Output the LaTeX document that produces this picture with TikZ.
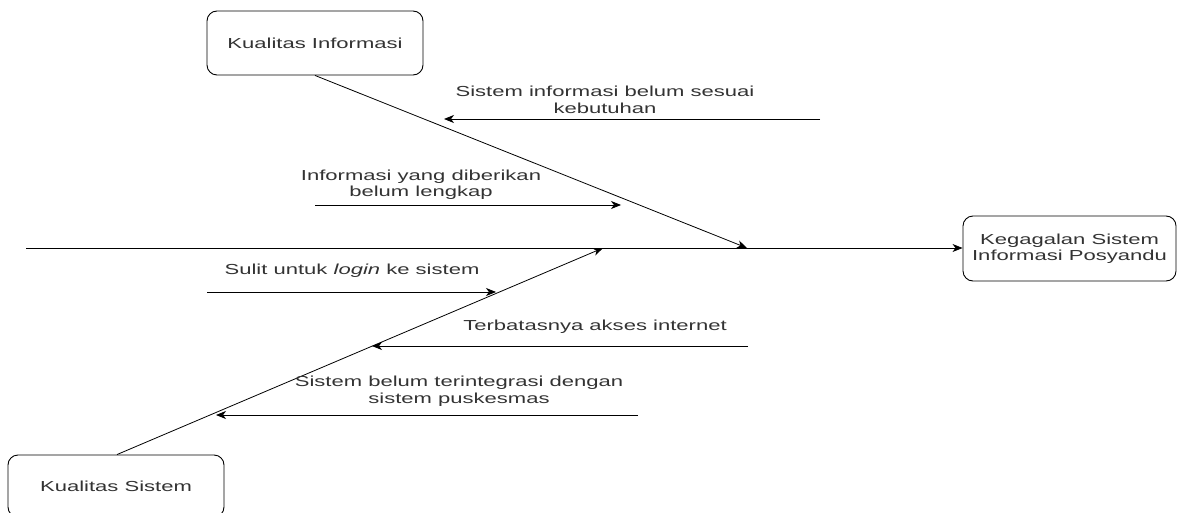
\documentclass[tikz,border=0pt]{standalone}
\usepackage{fontspec}
\setmainfont{Liberation Sans}[FakeStretch=1.52]
\usetikzlibrary{arrows.meta}
\definecolor{txt}{HTML}{333333}
\tikzset{
  box/.style={draw, line width=0.9pt, rounded corners=10pt, align=center, inner sep=0pt, text=txt},
  lbl/.style={align=center, inner sep=0pt, text=txt},
  conn/.style={draw, line width=0.8pt, -{Stealth[length=10pt,width=8pt,inset=3pt]}},
}
\begin{document}
\begin{tikzpicture}[x=1pt,y=-1pt, font=\fontsize{14.5}{16.5}\selectfont]
\useasboundingbox (0,0) rectangle (1177,513);
\fill[white] (0,0) rectangle (1177,513);
% boxes
\node[box, minimum width=216pt, minimum height=64pt] (info) at (315,43) {Kualitas Informasi};
\node[box, minimum width=213pt, minimum height=65pt] (fail) at (1069.5,248.5) {Kegagalan Sistem\\Informasi Posyandu};
\node[box, minimum width=216pt, minimum height=62pt] (sys) at (116,486) {Kualitas Sistem};
% spine
\coordinate (s0) at (26,248);
\draw[conn] (s0) -- (fail.west |- s0);
% diagonal bones
\coordinate (t1) at (747,248);
\coordinate (b1) at (603,248);
\draw[conn] (info.south) -- (t1);
\draw[conn] ([xshift=1pt]sys.north) -- (b1);
% cause arrows
\coordinate (a1s) at (820,119); \coordinate (a1e) at (444,119);
\coordinate (a2s) at (315,205); \coordinate (a2e) at (621,205);
\coordinate (a3s) at (207,292); \coordinate (a3e) at (496,292);
\coordinate (a4s) at (748,346); \coordinate (a4e) at (372,346);
\coordinate (a5s) at (638,415); \coordinate (a5e) at (216,415);
\draw[conn] (a1s) -- (a1e);
\draw[conn] (a2s) -- (a2e);
\draw[conn] (a3s) -- (a3e);
\draw[conn] (a4s) -- (a4e);
\draw[conn] (a5s) -- (a5e);
% labels
\node[lbl] (l1) at (605,100) {Sistem informasi belum sesuai\\kebutuhan};
\node[lbl] (l2) at (421,185) {Informasi yang diberikan\\belum lengkap};
\node[lbl] (l3) at (352,271) {Sulit untuk \textit{login} ke sistem};
\node[lbl] (l4) at (595,327) {Terbatasnya akses internet};
\node[lbl] (l5) at (459,391) {Sistem belum terintegrasi dengan\\sistem puskesmas};
\end{tikzpicture}
\end{document}
